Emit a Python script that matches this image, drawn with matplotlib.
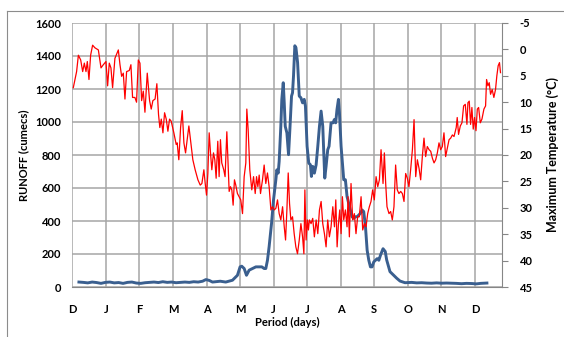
import matplotlib
matplotlib.use("Agg")
import matplotlib.pyplot as plt
from matplotlib.lines import Line2D

plt.rcParams['font.family'] = ['Lato', 'DejaVu Sans']
plt.rcParams['font.weight'] = 'bold'

month_labels = ['D', 'J', 'F', 'M', 'A', 'M', 'J', 'J', 'A', 'S', 'O', 'N', 'D']
days_per_month = 30.4

temp_days = [0.9, 3.9, 5.5, 7.6, 9.4, 10.9, 12.4, 13.6, 15.1, 16.6, 18.4, 20.5, 23.6, 26, 28.1, 30.5, 32, 33.5, 35, 36.5,
             38.6, 41.7, 43.2, 44.7, 46.2, 47.7, 49.2, 51.6, 53.1, 54.6, 56.7, 58.2, 59.8, 61.3, 62.8, 64.3, 65.8, 67.9,
             70, 71.5, 73, 75, 76.6, 78.1, 79.3, 80.6, 82.1, 83.6, 85.1, 86.6, 88.1, 89.6, 92, 94.1, 95, 96.5, 98.1,
             99.6, 101.1, 102.6, 104.1, 105.6, 107.1, 109.2, 111.3, 113.8, 115.9, 117.4, 119.2, 120.4, 121.6, 122.8,
             124, 125.2, 126.4, 127.9, 129.1, 130.3, 131.8, 133, 134.2, 135.4, 137.2, 138.4, 140,
             142.1, 143.3, 144.5, 145.7, 146.9, 148.1, 149.6, 151.1, 152.6, 154.2, 155.7, 157.2, 158.1, 159.3, 160.8,
             162.6, 164.2, 165.7, 166.9, 168.1, 169.3, 170.5, 172.3, 173.8, 175.3, 176.8, 178.3, 179.9, 181.4, 182.9,
             184.4, 185.9, 187.4, 188.9, 190.5, 192, 193.2, 194.4, 195.6, 196.8, 198, 199.5, 201, 202.5, 204, 205.6,
             207.1, 208.6, 209.8, 210.7,
             211.8, 213, 213.9, 214.8, 216.3, 217.8, 219.3, 220.9, 222.4, 223.9, 225.4, 226.9, 228.4, 229.9, 231.4,
             232.9, 234.4, 236, 237.5, 238.7, 239.9, 241.1, 242.3, 243.5, 244.7, 245.9, 247.4, 248.9, 249.8, 251,
             252.5, 254, 255.5, 257, 258.5, 260, 261.6, 263.1, 264.6, 266.1, 267.6, 269.1, 270.6, 272.1, 273.6,
             275.2, 276.7, 278.2, 279.7,
             281.5, 282.7, 283.9, 285.1, 286.9, 288.4, 289.9, 291.4, 292.9, 294.4, 295.9, 297.5, 299, 300.5, 302,
             303.5, 305, 306.5, 308.1, 309.6, 311.1, 312.6, 314.1, 315.6, 317.1, 318.6, 320.1, 321.6, 323.2, 324.7,
             326.2, 327.7, 329.2, 330.7, 332.2, 333.7, 335.2, 336.7, 338.2, 339.8, 341.3, 342.8, 344.3, 345.8,
             347.8, 348.7, 349.9, 351.5, 353, 354.5, 356, 357.5, 358.4, 359.6, 360.8, 362, 363.2, 364.4, 365.7,
             366.9, 368.1, 369.6, 371.1, 372.9, 374.4, 375.3, 376.5, 377.7, 378.9, 380.4, 381.9, 383.4, 384.6,
             385.8, 387, 387.9]
temp_values = [7.25, 4.2, 1.1, 2.0, 4.2, 2.6, 4.2, 2.3, 5.7, 1.1, -0.8, -0.3, 0.1, 3.5, 2.9, 2.3, 6.9, 2.6, 3.5, 7.25,
               1.7, 0.1, 2.9, 5.1, 4.5, 9.4, 4.2, 4.0, 2.9, 9.1, 9.1, 10.0, 2.0, 2.6, 9.7, 7.9, 11.9, 4.5,
               9.7, 11.3, 9.7, 9.4, 6.5, 12.3, 14.8, 13.2, 15.8, 12, 13.2, 15.5, 13.2, 13.6, 15.8, 18, 17.7, 20.9, 14.8,
               11.6, 17.7, 19.6, 17.1, 14.5, 17.1, 20.9, 22.8, 24.7, 25.7, 25.4, 22.8, 25.4, 27.6, 23.5,
               15.8, 19.6, 22.8, 19.6, 20.9, 24.4, 17.4, 24.1, 17.1, 21.5, 22.8, 24.1, 15.6,
               26.9, 26, 26.6, 29.5, 24.7, 25.7, 27.3, 27.9, 28.5, 31.1, 24.1, 21.5, 11.3, 15.2, 22.8,
               26.6, 24.1, 27.3, 24.1, 26, 23.8, 27.3, 24.7, 21.9, 25.4, 23.4, 26, 30.4, 29.8, 30.4,
               30.1, 28.5, 31.1, 32.3, 29.8, 33.6, 36.1, 30.4, 23.4, 29.2, 32.3, 31.7, 34.9, 37.4, 38.7, 36.1,
               33, 35.5, 38.7, 26.6,
               36.1, 32.3, 34.2, 32.3, 33, 32, 35.5, 32.3, 34.9, 30.4, 28.8, 33, 34.9, 37.4, 32.3,
               35.5, 33.6, 29.8, 33.6, 28.5, 37.4, 33, 30.4, 34.9, 27.9, 32.3, 30.4, 33.6, 27.9, 35.5,
               25.4, 32.3, 31.1, 34.9, 31.7, 31.7, 27.9, 34.2, 33, 33.6, 31.1, 29.8, 28.8, 26.6, 28.5,
               24.1, 26, 24.7, 19,
               25.4, 19.6, 25.4, 29.8, 31.1, 30.7, 32.3, 29.8, 21.9, 26.6, 27.3, 26.9, 27.3, 28.8, 23.5,
               24.4, 26, 22.8, 19, 13.3, 24.1, 20.9, 22.5, 24.7, 20.3, 16.8, 20.3, 18.4, 19, 19.3,
               20.6, 21.5, 20.9, 19.6, 17.7, 19, 18.4, 15.8, 20.3, 18.7, 17.1, 16.8, 16.2, 16.5,
               14.8, 12.9, 16.1, 14.5, 13.9, 10.7, 10.4, 14.2, 10.1, 9.8, 14.2, 11, 15.1, 12.9, 15.4,
               11.3, 11, 13.9, 13.2, 11.3, 10.7, 5.7, 6.9, 6.3, 8.5, 7.6, 9.1, 7.6, 5,
               3.1, 2.5, 4.4]

runoff_days = [6, 10, 14, 18, 22, 26, 30, 34, 38, 42, 46, 50, 54, 58, 62, 66, 70, 74, 78, 82, 86, 90, 94, 98, 102,
               106, 110, 114, 118, 121, 124, 127, 130, 134, 139,
               145.1, 149.6, 152, 153.5, 155.7, 157.8, 160.2, 163.2, 166.3, 169.3, 171.7, 173.8, 175.3, 176.8, 178.3,
               180.5, 182.3, 184.4, 185.3, 186.5, 187.4, 188.9, 189.8, 191.1, 192, 192.9, 194.4, 195.9, 197.1, 198.6,
               199.5, 200.4, 201.6, 202.6, 204.1, 205.6, 207.1, 208.6, 210.1,
               211.2, 212.7, 214.2, 215.7, 216.6, 217.8, 219.3, 220.9, 222.4, 223.9, 225.4, 226.9, 227.8, 228.7,
               229.9, 231.4, 232.6, 234.4, 236.2, 237.4, 238.6, 239.8, 241.1, 242, 243.5, 245, 245.9, 247.4, 248.9,
               250.4, 251.9, 253.4, 255, 256.5, 258, 259.5, 261, 262.5, 264, 265.6, 267.1, 268.6, 270.1, 271.6,
               273.1, 274.6, 276.2, 277.7, 279.2, 281.5, 283.5, 284.8, 287.8, 290.8, 293.9, 296.9, 301.4, 307.4,
               312, 316.5, 321, 325.5, 330, 334.5, 339, 343.6, 348, 352.6, 357, 362, 366, 370, 375.6]
runoff_values = [30, 28, 25, 30, 27, 22, 28, 30, 25, 27, 22, 28, 30, 24, 22, 26, 28, 30, 27, 32, 28, 30, 26, 28, 30,
                 28, 32, 30, 35, 45, 40, 30, 32, 35, 30,
                 41, 71, 122, 126, 112, 71, 102, 112, 122, 122, 122, 112, 112, 162, 244,
                 386, 528, 650, 710, 690, 761, 974, 1137, 1238, 1116, 974, 934, 802, 954, 1157,
                 1177, 1279, 1462, 1451, 1360, 1157, 1147, 1116, 1137,
                 1096, 853, 751, 741, 670, 731, 690, 741, 853, 974, 1066, 974, 812, 660,
                 731, 832, 853, 995, 995, 1015, 995, 1076, 1137, 1056, 853, 731, 650, 650, 548,
                 508, 467, 426, 416, 426, 426, 436, 447, 467, 457, 365, 223, 162, 122, 122,
                 152, 162, 172, 162, 193, 232, 215, 164, 93, 73, 53, 36, 26, 28,
                 25, 26, 24, 23, 25, 23, 24, 23, 22, 20, 22, 21, 19, 22, 24]

runoff_ticks = [0, 200, 400, 600, 800, 1000, 1200, 1400, 1600]
temp_ticks = [-5, 0, 5, 10, 15, 20, 25, 30, 35, 40, 45]

W, H = 564, 337
fig = plt.figure(figsize=(W / 100, H / 100), dpi=100)
left, right, top, bottom = 72.3, 501.7, 23, 287
ax = fig.add_axes([left / W, 1 - bottom / H, (right - left) / W, (bottom - top) / H])
ax2 = ax.twinx()

grid_c = '#A6A6A6'
ax.plot(runoff_days, runoff_values, color='#3A5F8F', lw=2.1, zorder=3)
ax2.plot(temp_days, temp_values, color='#FF0000', lw=0.9, zorder=3)

ax.set_xlim(0, 389)
ax.set_ylim(0, 1600)
ax2.set_ylim(45, -5)

month_pos = [i * days_per_month for i in range(len(month_labels))]
ax.set_xticks(month_pos)
ax.set_xticklabels(month_labels, fontsize=8, fontweight='bold')
ax.tick_params(axis='x', length=0, pad=12)
ax.set_yticks(runoff_ticks)
ax.set_yticklabels([str(t) for t in runoff_ticks], fontsize=8, fontweight='bold')
ax.tick_params(axis='y', length=0, pad=8)
ax.grid(True, color=grid_c, lw=1.1)
ax.set_axisbelow(True)

ax2.set_yticks(temp_ticks)
ax2.set_yticklabels([str(t) for t in temp_ticks], fontsize=8, fontweight='bold')
ax2.tick_params(axis='y', length=4, width=0.8, color='#868686', pad=9)

for a in (ax, ax2):
    a.spines['top'].set_visible(False)
    a.spines['left'].set_visible(False)
    a.spines['right'].set_visible(False)
    a.spines['bottom'].set_color('#868686')
ax2.spines['right'].set_visible(True)
ax2.spines['right'].set_color('#868686')
ax2.spines['bottom'].set_visible(False)

ax.set_ylabel('RUNOFF (cumecs)', fontsize=8, fontweight='bold', labelpad=4)
ax2.set_ylabel('Maximum Temperature (°C)', fontsize=9, fontweight='bold', labelpad=10)
ax.set_xlabel('Period (days)', fontsize=8, fontweight='bold', labelpad=2)

# chart area border (top and left visible)
fig.add_artist(Line2D([7 / W, 7 / W], [0, 1 - 11 / H], transform=fig.transFigure, color='#8C8C8C', lw=0.8))
fig.add_artist(Line2D([7 / W, 1], [1 - 11 / H, 1 - 11 / H], transform=fig.transFigure, color='#8C8C8C', lw=0.8))

fig.savefig('out.png', dpi=100)
